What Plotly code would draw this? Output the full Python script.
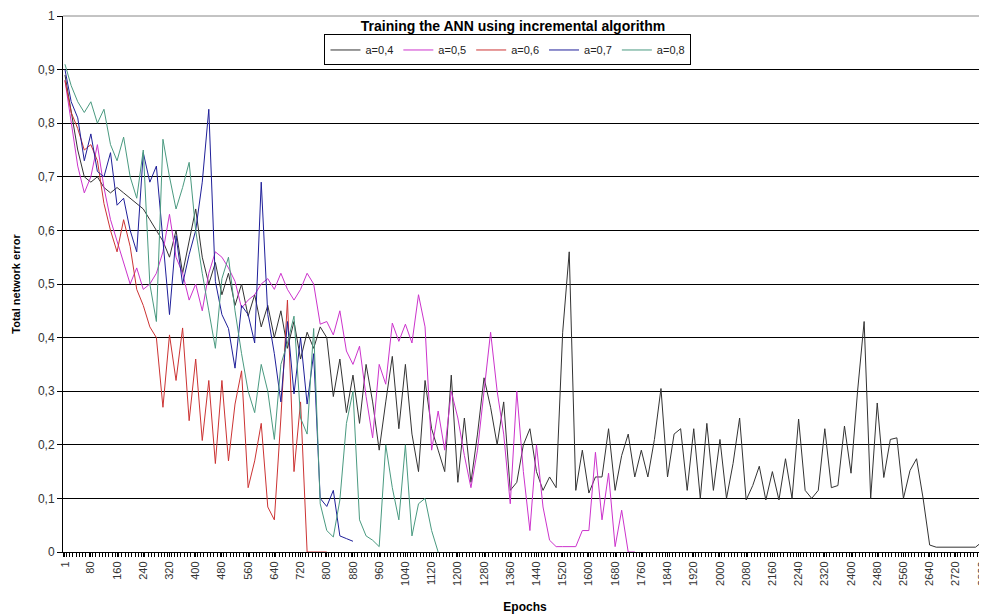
import plotly.graph_objects as go

# epochs sampled every 20 (first sample at epoch 1)
epochs = [1] + list(range(20, 2801, 20))

a04 = [0.89, 0.82, 0.75, 0.70, 0.69, 0.70, 0.68, 0.67, 0.68, 0.67,
       0.66, 0.65, 0.64, 0.62, 0.60, 0.58, 0.55, 0.60, 0.52, 0.58,
       0.64, 0.55, 0.50, 0.54, 0.48, 0.52, 0.46, 0.50, 0.44, 0.48,
       0.42, 0.46, 0.40, 0.45, 0.38, 0.43, 0.36, 0.41, 0.38, 0.42,
       0.40, 0.29, 0.36, 0.26, 0.33, 0.24, 0.35, 0.28, 0.19, 0.28,
       0.365, 0.23, 0.35, 0.22, 0.15, 0.32, 0.23, 0.19, 0.15, 0.33,
       0.13, 0.25, 0.13, 0.22, 0.325, 0.27, 0.20, 0.28, 0.115, 0.13,
       0.20, 0.23, 0.15, 0.115, 0.14, 0.12, 0.41, 0.56, 0.115, 0.19,
       0.11, 0.14, 0.14, 0.23, 0.115, 0.18, 0.22, 0.14, 0.19, 0.14,
       0.21, 0.305, 0.14, 0.22, 0.23, 0.115, 0.23, 0.10, 0.24, 0.115,
       0.21, 0.10, 0.165, 0.25, 0.097, 0.124, 0.16, 0.097, 0.15, 0.097,
       0.174, 0.10, 0.248, 0.115, 0.10, 0.115, 0.23, 0.12, 0.124, 0.235,
       0.147, 0.30, 0.43, 0.10, 0.278, 0.139, 0.21, 0.213, 0.10, 0.152,
       0.174, 0.10, 0.013, 0.009, 0.009, 0.009, 0.009, 0.009, 0.009, 0.009,
       0.019]

a05 = [0.88, 0.80, 0.72, 0.67, 0.70, 0.76, 0.68, 0.62, 0.58, 0.54,
       0.50, 0.53, 0.49, 0.50, 0.52, 0.56, 0.63, 0.55, 0.52, 0.47,
       0.50, 0.45, 0.52, 0.56, 0.55, 0.53, 0.505, 0.455, 0.47, 0.48,
       0.50, 0.51, 0.49, 0.52, 0.49, 0.47, 0.49, 0.52, 0.50, 0.425,
       0.43, 0.405, 0.45, 0.375, 0.35, 0.384, 0.29, 0.213, 0.35, 0.313,
       0.427, 0.393, 0.425, 0.39, 0.48, 0.42, 0.19, 0.263, 0.19, 0.30,
       0.25, 0.18, 0.12, 0.19, 0.30, 0.41, 0.30, 0.22, 0.09, 0.30,
       0.15, 0.04, 0.20, 0.084, 0.022, 0.01, 0.01, 0.01, 0.01, 0.04,
       0.04, 0.186, 0.06, 0.147, 0.01, 0.078, 0.0, 0.0]

a06 = [0.88, 0.82, 0.79, 0.75, 0.76, 0.73, 0.65, 0.60, 0.56, 0.62,
       0.57, 0.49, 0.46, 0.42, 0.40, 0.27, 0.405, 0.32, 0.418, 0.245,
       0.36, 0.208, 0.32, 0.165, 0.32, 0.17, 0.276, 0.338, 0.12, 0.17,
       0.24, 0.084, 0.06, 0.25, 0.47, 0.15, 0.28, 0.0, 0.0, 0.0,
       0.0]

a07 = [0.90, 0.84, 0.81, 0.73, 0.78, 0.71, 0.70, 0.745, 0.647, 0.66,
       0.60, 0.56, 0.745, 0.69, 0.72, 0.585, 0.443, 0.59, 0.50, 0.555,
       0.60, 0.69, 0.826, 0.505, 0.443, 0.417, 0.343, 0.46, 0.443, 0.39,
       0.69, 0.443, 0.37, 0.28, 0.43, 0.295, 0.40, 0.276, 0.37, 0.10,
       0.085, 0.115, 0.03, 0.025, 0.02]

a08 = [0.91, 0.87, 0.84, 0.82, 0.84, 0.80, 0.826, 0.76, 0.73, 0.774,
       0.70, 0.66, 0.75, 0.50, 0.43, 0.77, 0.70, 0.64, 0.68, 0.727,
       0.60, 0.52, 0.45, 0.38, 0.51, 0.55, 0.45, 0.37, 0.30, 0.26,
       0.35, 0.30, 0.21, 0.35, 0.39, 0.44, 0.25, 0.22, 0.417, 0.09,
       0.04, 0.028, 0.097, 0.24, 0.30, 0.06, 0.03, 0.022, 0.01, 0.20,
       0.12, 0.06, 0.20, 0.03, 0.09, 0.10, 0.04, 0.0]

series_names = ["a=0,4", "a=0,5", "a=0,6", "a=0,7", "a=0,8"]
series_colors = ["#333333", "#CC33CC", "#CC3333", "#1F1F99", "#4A9A80"]

x_tickvals = [1, 80, 160, 240, 320, 400, 480, 560, 640, 720, 800, 880,
              960, 1040, 1120, 1200, 1280, 1360, 1440, 1520, 1600, 1680,
              1760, 1840, 1920, 2000, 2080, 2160, 2240, 2320, 2400, 2480,
              2560, 2640, 2720, 2800]
y_tickvals = [0, 0.1, 0.2, 0.3, 0.4, 0.5, 0.6, 0.7, 0.8, 0.9, 1]

FONT = "Arial, Liberation Sans, sans-serif"

fig = go.Figure()
for name, color, vals in zip(series_names, series_colors, [a04, a05, a06, a07, a08]):
    fig.add_trace(go.Scatter(
        x=epochs[:len(vals)], y=vals, mode="lines", name=name,
        line=dict(color=color, width=1)
    ))

# the page body adds an 8px offset, so the figure is sized/shifted for that
fig.update_layout(
    width=979, height=608,
    margin=dict(l=55, r=0, t=8, b=64, autoexpand=False),
    paper_bgcolor="white", plot_bgcolor="white",
    separators=", ",
    font=dict(family=FONT, size=11, color="#222"),
    title=dict(
        text="<b>Training the ANN using incremental algorithm</b>",
        x=505 / 979, xanchor="center", y=1 - 18 / 608, yanchor="middle",
        yref="container", automargin=False,
        font=dict(size=14, color="black", family=FONT)
    ),
    legend=dict(
        orientation="h", x=0.4816, xanchor="center", y=0.9366, yanchor="middle",
        bordercolor="black", borderwidth=1, bgcolor="white",
        font=dict(size=11, color="#222"), itemwidth=30
    ),
    xaxis=dict(
        range=[-5, 2815], tickvals=x_tickvals, tickangle=-90, automargin=False,
        ticklabeloverflow="allow",
        showgrid=False, zeroline=False, showline=True, linecolor="black",
        ticks="outside", ticklen=4, tickcolor="black",
        minor=dict(ticks="outside", dtick=10, tick0=5, ticklen=4, tickcolor="black"),
        title=dict(text="<b>Epochs</b>", font=dict(size=12, color="black"), standoff=17),
        tickfont=dict(size=11, color="#333")
    ),
    yaxis=dict(
        range=[0, 1], tickvals=y_tickvals, automargin=False,
        ticklabeloverflow="allow",
        showgrid=True, gridcolor="black", gridwidth=1, zeroline=False,
        showline=True, linecolor="black",
        ticks="outside", ticklen=5, tickcolor="black",
        title=dict(text="<b>Total network error</b>", font=dict(size=11, color="black"), standoff=15),
        tickfont=dict(size=12, color="#333")
    ),
    # top border of the plot area (gray, as in the original)
    shapes=[dict(type="line", xref="paper", yref="paper", x0=0, x1=1, y0=1, y1=1,
                 line=dict(color="#888888", width=1))],
)

fig.write_html("out.html")
